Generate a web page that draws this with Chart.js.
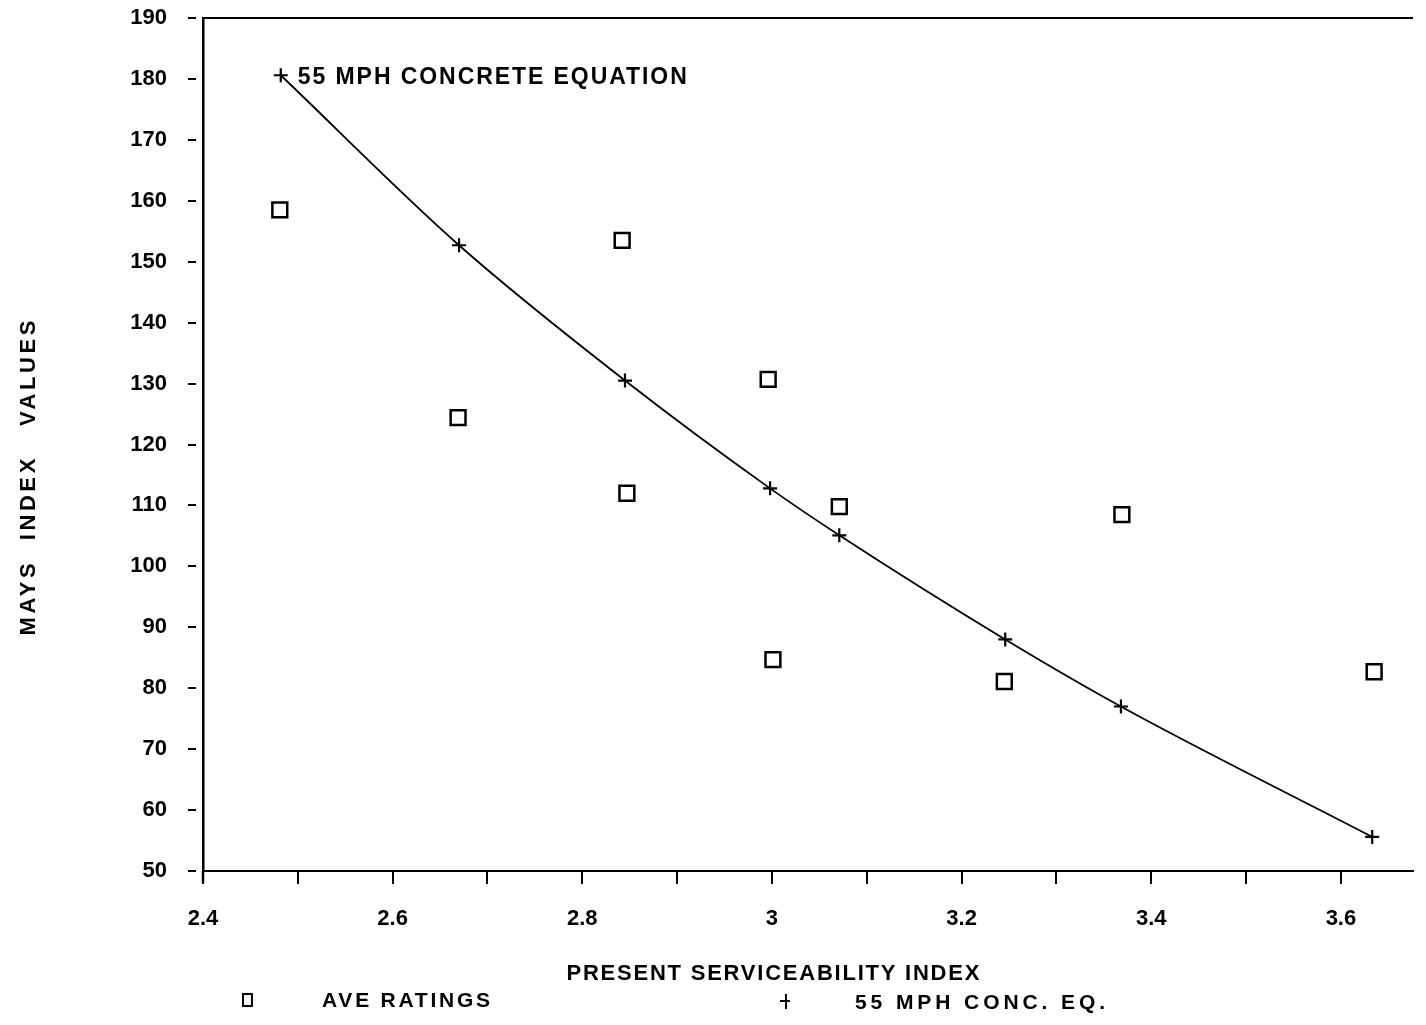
<!DOCTYPE html>
<html><head><meta charset="utf-8">
<script src="https://cdn.jsdelivr.net/npm/chart.js@4"></script>
<style>html,body{margin:0;padding:0;background:#fff;} #wrap{width:1426px;height:1025px;position:relative;}</style>
</head><body><div id="wrap"><canvas id="c" width="1426" height="1025"></canvas></div>
<script>
const xTitle = 'PRESENT SERVICEABILITY INDEX';
const yTitle = 'MAYS  INDEX   VALUES';
const annotationText = '55 MPH CONCRETE EQUATION';
const seriesNames = ['AVE RATINGS', '55 MPH CONC. EQ.'];

const aveX = [2.481, 2.669, 2.842, 2.847, 2.996, 3.001, 3.071, 3.245, 3.369, 3.635];
const aveY = [158.5, 124.4, 153.5, 112.0, 130.7, 84.7, 109.8, 81.1, 108.5, 82.7];

const eqX = [2.482, 2.670, 2.845, 2.998, 3.071, 3.246, 3.368, 3.633];
const eqY = [180.6, 152.7, 130.5, 112.8, 105.1, 88.0, 77.0, 55.6];

const xTickValues = [2.4, 2.5, 2.6, 2.7, 2.8, 2.9, 3.0, 3.1, 3.2, 3.3, 3.4, 3.5, 3.6];
const xTickLabels = ['2.4', '', '2.6', '', '2.8', '', '3', '', '3.2', '', '3.4', '', '3.6'];
const yTickValues = [50, 60, 70, 80, 90, 100, 110, 120, 130, 140, 150, 160, 170, 180, 190];
const xMin = 2.4, xMax = 3.676, yMin = 50, yMax = 190;

const FONT = "'Liberation Sans', Arial, sans-serif";

function drawSpaced(ctx, text, x, y, width, font, align) {
  ctx.save();
  ctx.font = font;
  ctx.letterSpacing = '0px';
  const w0 = ctx.measureText(text).width;
  const n = text.length;
  const ls = n > 1 ? (width - w0) / (n - 1) : 0;
  ctx.letterSpacing = ls.toFixed(2) + 'px';
  ctx.textAlign = 'left';
  ctx.textBaseline = 'middle';
  ctx.fillStyle = '#000';
  const left = align === 'center' ? x - width / 2 : x;
  ctx.fillText(text, left, y);
  ctx.restore();
}

const decor = {
  id: 'decor',
  afterDraw(chart) {
    const ctx = chart.ctx;
    const a = chart.chartArea;
    const xs = chart.scales.x, ys = chart.scales.y;
    ctx.save();
    ctx.strokeStyle = '#000';
    ctx.lineWidth = 2;
    ctx.beginPath();
    ctx.moveTo(a.left, a.top);
    ctx.lineTo(a.right, a.top);
    ctx.stroke();
    ctx.lineWidth = 2.5;
    ctx.beginPath();
    ctx.moveTo(a.left, a.bottom);
    ctx.lineTo(a.left, a.bottom + 12);
    ctx.stroke();
    ctx.restore();

    const px = xs.getPixelForValue(eqX[0]);
    const py = ys.getPixelForValue(eqY[0]);
    drawSpaced(ctx, annotationText, px + 17, py + 2, 389, 'bold 23px ' + FONT, 'left');

    drawSpaced(ctx, xTitle, 773, 974, 413, 'bold 22px ' + FONT, 'center');

    ctx.save();
    ctx.translate(29, 478);
    ctx.rotate(-Math.PI / 2);
    drawSpaced(ctx, yTitle, 0, 0, 315, 'bold 22px ' + FONT, 'center');
    ctx.restore();

    ctx.save();
    ctx.strokeStyle = '#000';
    ctx.lineWidth = 2;
    ctx.strokeRect(243, 994, 9, 12);
    ctx.beginPath();
    ctx.moveTo(780, 1001); ctx.lineTo(790, 1001);
    ctx.moveTo(786, 994); ctx.lineTo(786, 1009);
    ctx.stroke();
    ctx.restore();
    drawSpaced(ctx, seriesNames[0], 322, 1001, 168, 'bold 21px ' + FONT, 'left');
    drawSpaced(ctx, seriesNames[1], 855, 1003, 250, 'bold 21px ' + FONT, 'left');
  }
};

const chart = new Chart(document.getElementById('c'), {
  type: 'scatter',
  data: {
    datasets: [
      {
        label: seriesNames[0],
        data: aveX.map((x, i) => ({ x: x, y: aveY[i] })),
        pointStyle: 'rect',
        pointRadius: 10.5,
        pointHoverRadius: 10.5,
        pointBorderWidth: 2.5,
        pointBorderColor: '#000',
        pointBackgroundColor: 'rgba(0,0,0,0)',
        showLine: false
      },
      {
        label: seriesNames[1],
        data: eqX.map((x, i) => ({ x: x, y: eqY[i] })),
        pointStyle: 'cross',
        pointRadius: 7,
        pointHoverRadius: 7,
        pointBorderWidth: 2.2,
        pointBorderColor: '#000',
        pointBackgroundColor: '#000',
        borderColor: '#000',
        borderWidth: 1.8,
        showLine: true,
        cubicInterpolationMode: 'monotone'
      }
    ]
  },
  options: {
    responsive: false,
    animation: false,
    events: [],
    layout: { padding: { left: 0, top: 18, right: 11, bottom: 0 } },
    plugins: { legend: { display: false }, tooltip: { enabled: false }, title: { display: false } },
    scales: {
      x: {
        type: 'linear',
        min: xMin, max: xMax,
        afterFit(s) { s.height = 154; s.paddingLeft = 0; s.paddingRight = 0; },
        afterBuildTicks(s) { s.ticks = xTickValues.map(v => ({ value: v })); },
        border: { display: true, color: '#000', width: 2 },
        grid: { drawOnChartArea: false, drawTicks: true, tickLength: 13, color: '#000', lineWidth: 2 },
        ticks: {
          autoSkip: false,
          maxRotation: 0,
          padding: 22,
          color: '#000',
          font: { family: FONT, size: 22, weight: 'bold' },
          callback: (v, i) => xTickLabels[i]
        }
      },
      y: {
        type: 'linear',
        min: yMin, max: yMax,
        afterFit(s) { s.width = 203; s.paddingTop = 0; s.paddingBottom = 0; },
        afterBuildTicks(s) { s.ticks = yTickValues.map(v => ({ value: v })); },
        border: { display: true, color: '#000', width: 2.5 },
        grid: { drawOnChartArea: false, drawTicks: true, tickLength: 15, tickBorderDash: [8, 20], color: '#000', lineWidth: 2 },
        ticks: {
          padding: 21,
          color: '#000',
          font: { family: FONT, size: 22, weight: 'bold' },
          callback: (v) => String(v)
        }
      }
    }
  },
  plugins: [decor]
});
</script>
</body></html>
